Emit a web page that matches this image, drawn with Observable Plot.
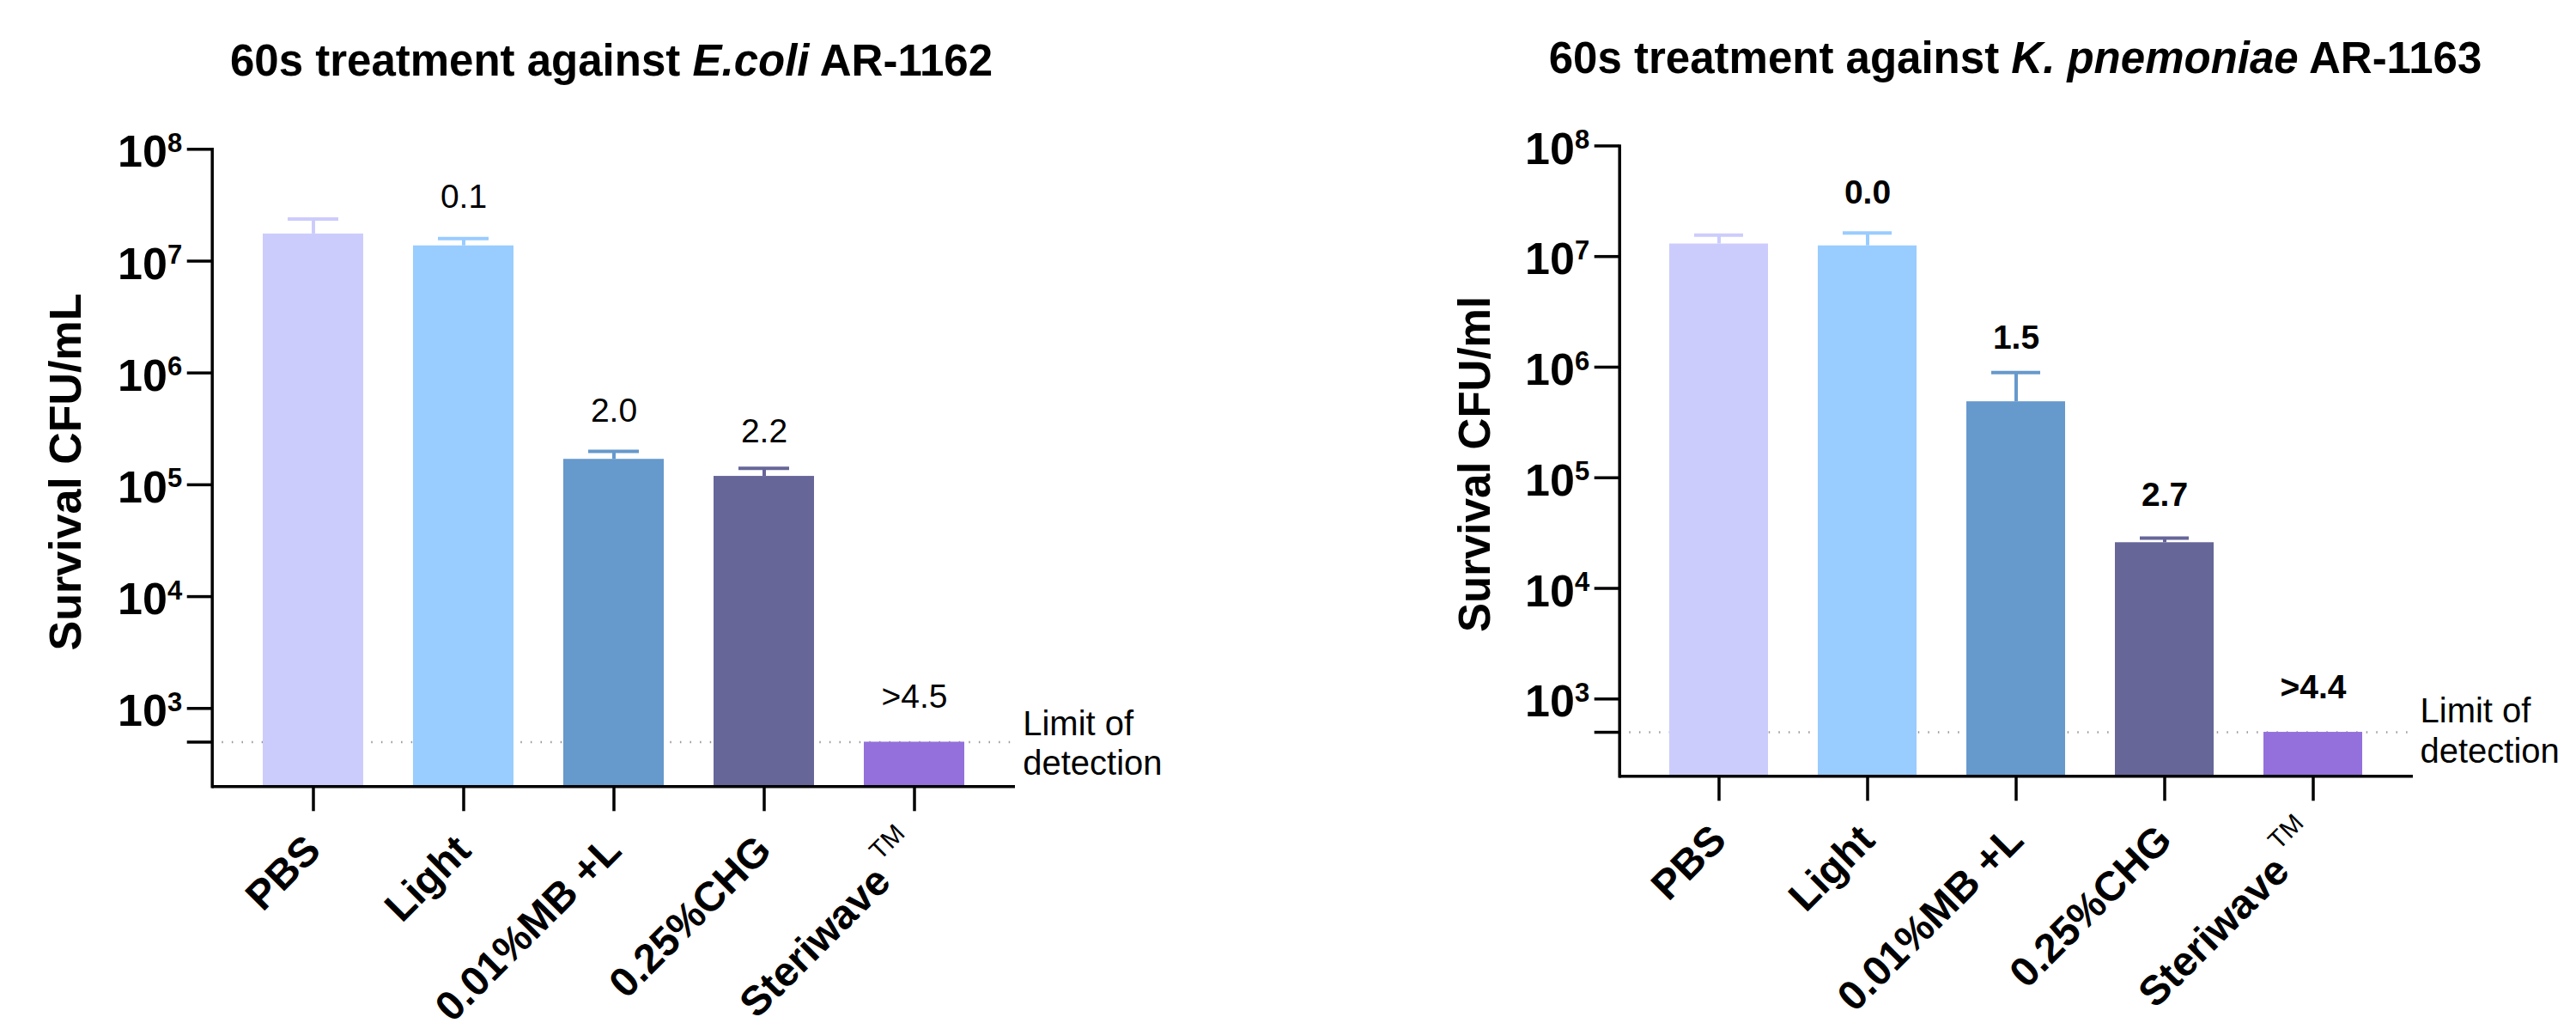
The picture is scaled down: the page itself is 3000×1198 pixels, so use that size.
<!DOCTYPE html>
<html>
<head>
<meta charset="utf-8">
<script src="https://cdn.jsdelivr.net/npm/d3@7"></script>
<script src="https://cdn.jsdelivr.net/npm/@observablehq/plot@0.6"></script>
<style>
  html, body { margin: 0; padding: 0; background: #fff; }
  #root { position: relative; width: 3000px; height: 1198px; overflow: hidden; background: #fff;
          font-family: "Liberation Sans", Arial, Helvetica, sans-serif; color: #000; }
  .title { position: absolute; width: 1400px; text-align: center; font-weight: bold; font-size: 51px;
           line-height: 51px; white-space: nowrap; }
  .panel { position: absolute; top: 0; }
</style>
</head>
<body>
<div id="root"></div>
<script>
// ---------------- data ----------------
const categories = ["PBS", "Light", "0.01%MB +L", "0.25%CHG", "Steriwave"];
const trademarkSuffix = "TM";
const barColors = ["#CCCCFC", "#99CCFF", "#6699CC", "#666699", "#9370DB"];
const detectionLimit = 500;
const yDomain = [200, 1e8];
const yTicks = [500, 1e3, 1e4, 1e5, 1e6, 1e7, 1e8];

const ecoliTitle = ["60s treatment against ", "E.coli", " AR-1162"];
const ecoliYTitle = "Survival CFU/mL";
const ecoliMean = [1.75e7, 1.37e7, 1.69e5, 1.19e5, 500];
const ecoliErrTop = [2.38e7, 1.59e7, 1.99e5, 1.40e5, null];
const ecoliLogRed = ["", "0.1", "2.0", "2.2", ">4.5"];
const ecoliLabelY = [null, 3.0e7, 3.63e5, 2.38e5, 1.02e3];

const kpnTitle = ["60s treatment against ", "K. pnemoniae", " AR-1163"];
const kpnYTitle = "Survival CFU/ml";
const kpnMean = [1.30e7, 1.25e7, 4.87e5, 2.59e4, 500];
const kpnErrTop = [1.56e7, 1.63e7, 8.95e5, 2.85e4, null];
const kpnLogRed = ["", "0.0", "1.5", "2.7", ">4.4"];
const kpnLabelY = [null, 3.0e7, 1.48e6, 5.6e4, 1.02e3];

const lodText = "Limit of\ndetection";

// ---------------- drawing ----------------
const FONT = '"Liberation Sans", Arial, Helvetica, sans-serif';
const SVGNS = "http://www.w3.org/2000/svg";

function makePanel(cfg) {
  const rows = categories.map((c, i) => ({
    cat: c, mean: cfg.mean[i], err: cfg.errTop[i], label: cfg.labels[i], labelY: cfg.labelY[i]
  }));
  const plot = Plot.plot({
    width: 1500, height: 1198,
    marginLeft: cfg.ml, marginRight: cfg.mr, marginTop: cfg.mt, marginBottom: cfg.mb,
    style: { fontFamily: FONT, background: "transparent", color: "#000", overflow: "visible" },
    x: { domain: categories, padding: 1 / 3 },
    y: { type: "log", domain: yDomain },
    color: { domain: categories, range: barColors },
    marks: [
      Plot.ruleY([detectionLimit], { stroke: "#9a9a9a", strokeWidth: 2.5, strokeDasharray: "1.5,10.1" }),
      Plot.barY(rows, { x: "cat", y1: yDomain[0], y2: "mean", fill: "cat" }),
      Plot.ruleX(rows.filter(d => d.err), { x: "cat", y1: "mean", y2: "err", stroke: "cat", strokeWidth: 4 }),
      Plot.tickY(rows.filter(d => d.err), { x: "cat", y: "err", stroke: "cat", strokeWidth: 4, insetLeft: 29, insetRight: 29 }),
      Plot.text(rows.filter(d => d.label), { x: "cat", y: "labelY", text: "label", lineAnchor: "bottom",
        fontSize: 39, fontWeight: cfg.labelWeight }),
      Plot.axisY({ ticks: yTicks, tickSize: 29, tickPadding: 6, strokeWidth: 3.5, label: null,
        fontSize: 52, fontWeight: "bold",
        tickFormat: d => d === detectionLimit ? "" : "10^" + Math.round(Math.log10(d)) }),
      Plot.frame({ anchor: "left", strokeWidth: 3.5 }),
      Plot.ruleY([yDomain[0]], { strokeWidth: 3.5 }),
      Plot.axisX({ tickSize: 29, strokeWidth: 3.5, label: null, tickFormat: () => "" }),
      Plot.text(categories, { x: d => d, text: d => d, frameAnchor: "bottom", dy: 66, rotate: -45,
        textAnchor: "end", lineAnchor: "middle", fontSize: 48, fontWeight: "bold" }),
      Plot.text([cfg.yTitle], { frameAnchor: "left", rotate: -90, dx: cfg.ytDx, dy: cfg.ytDy,
        lineAnchor: "bottom", textAnchor: "middle", fontSize: cfg.ytSize, fontWeight: "bold" }),
      Plot.text([{ y: detectionLimit, t: lodText }], { y: "y", text: "t", frameAnchor: "right",
        textAnchor: "start", lineAnchor: "middle", lineHeight: 1.17, dx: cfg.lodDx, dy: cfg.lodDy, fontSize: 40 })
    ]
  });

  // superscript exponents on the y tick labels
  plot.querySelectorAll('g[aria-label="y-axis tick label"] text').forEach(t => {
    const m = /^10\^(\d+)$/.exec(t.textContent.trim());
    if (!m) return;
    t.textContent = "";
    const base = document.createElementNS(SVGNS, "tspan");
    base.setAttribute("dy", "4");
    base.textContent = "10";
    const sup = document.createElementNS(SVGNS, "tspan");
    sup.setAttribute("dy", "-17.6");
    sup.setAttribute("font-size", "31");
    sup.textContent = m[1];
    t.appendChild(base);
    t.appendChild(sup);
  });
  // trademark superscript on the last category label
  plot.querySelectorAll("text").forEach(t => {
    if (t.textContent === categories[4] && t.getAttribute("transform") && t.getAttribute("transform").includes("rotate")) {
      const sup = document.createElementNS(SVGNS, "tspan");
      sup.setAttribute("font-size", "30");
      sup.setAttribute("font-weight", "normal");
      sup.setAttribute("dy", "-29");
      sup.textContent = " " + trademarkSuffix;
      t.appendChild(sup);
    }
  });
  plot.classList.add("panel");
  plot.style.left = cfg.left + "px";
  return plot;
}

function makeTitle(parts, centerX, baselineY) {
  const div = document.createElement("div");
  div.className = "title";
  div.style.left = (centerX - 700) + "px";
  div.style.top = (baselineY - 0.8465 * 51) + "px";
  div.append(parts[0]);
  const i = document.createElement("i");
  i.textContent = parts[1];
  div.append(i);
  div.append(parts[2]);
  return div;
}

const root = document.getElementById("root");
root.append(makePanel({
  left: 0, ml: 246.7, mr: 318, mt: 173.3, mb: 282.7,
  mean: ecoliMean, errTop: ecoliErrTop, labels: ecoliLogRed, labelY: ecoliLabelY, labelWeight: "normal",
  yTitle: ecoliYTitle, ytDx: -153.7, ytDy: 4.7, ytSize: 52, lodDx: 8.7, lodDy: 0
}));
root.append(makePanel({
  left: 1500, ml: 385.7, mr: 190, mt: 169.4, mb: 294.7,
  mean: kpnMean, errTop: kpnErrTop, labels: kpnLogRed, labelY: kpnLabelY, labelWeight: "bold",
  yTitle: kpnYTitle, ytDx: -150.9, ytDy: 3.6, ytSize: 51, lodDx: 8, lodDy: -3
}));
root.append(makeTitle(ecoliTitle, 712, 88));
root.append(makeTitle(kpnTitle, 2347, 85));
</script>
</body>
</html>
